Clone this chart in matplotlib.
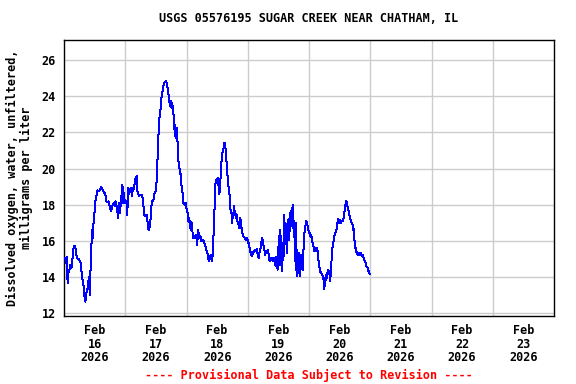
import matplotlib
matplotlib.use("Agg")
import matplotlib.pyplot as plt
import numpy as np
import datetime as dt

# Hours since 2026-02-16 00:00 and dissolved oxygen (mg/L)
hours = [0.5, 0.8, 1.2, 1.4, 1.8, 2.1, 2.5, 2.9, 3.1, 3.5, 3.8, 4.4, 4.7, 5.1, 5.7, 6.4, 7.0, 7.4, 7.8, 8.1,
         8.4, 8.6, 9.0, 9.4, 9.7, 9.9, 10.2, 10.3, 10.6, 11.0, 11.2, 11.6, 12.0, 12.3, 12.7, 13.1, 13.6, 14.2, 14.6, 15.2,
         15.7, 16.2, 16.5, 17.0, 17.5,
         18.0, 18.5, 18.8, 19.2, 19.6, 19.9, 20.2, 20.8, 21.2, 21.5, 21.9, 22.5, 22.9, 23.2, 23.5, 23.8, 24.2, 24.6, 24.8,
         25.1, 25.5, 25.9, 26.4, 26.6, 27.0, 27.4, 27.9, 28.5, 28.7, 29.0, 29.4, 29.8, 30.3, 30.7, 31.1, 31.3, 31.7, 32.3,
         32.6, 32.9, 33.2, 33.7, 34.0, 34.2, 34.6, 35.1, 35.5,
         35.9, 36.3, 36.6, 36.8, 37.2, 37.6, 37.9, 38.1, 38.5, 38.9, 39.4, 40.0, 40.5, 40.7, 41.1, 41.5, 41.8, 42.1, 42.4,
         42.7, 43.1, 43.4, 43.6, 43.9, 44.1, 44.4, 44.7, 44.9, 45.2, 45.4, 45.7, 46.0, 46.4, 46.8, 47.0, 47.4, 47.8, 48.1,
         48.3, 48.7, 49.0, 49.4, 49.6, 49.9, 50.2, 50.4, 50.7, 50.9, 51.3, 51.7, 52.0, 52.2, 52.5, 52.9, 53.3, 53.5, 53.9,
         54.3, 54.6,
         54.9, 55.2, 55.6, 56.2, 56.5, 56.9, 57.2, 57.6, 57.9, 58.2, 58.5, 58.8, 59.0, 59.4, 59.8, 60.2, 60.6, 60.9, 61.1,
         61.4, 61.6, 61.9, 62.2, 62.6, 62.9, 63.2, 63.5, 63.7, 64.1, 64.5, 64.8, 65.0, 65.3, 65.6, 65.8, 66.1, 66.3, 66.6,
         66.9, 67.1, 67.4, 67.7, 68.0, 68.3, 68.6, 68.8, 69.1, 69.4, 69.7, 70.0, 70.4, 70.9, 71.3, 71.7, 72.1, 72.5,
         73.0, 73.4, 73.7, 74.0, 74.4, 74.8, 75.2, 75.6, 75.9, 76.3, 76.5, 76.9, 77.3, 77.6, 77.8, 78.2, 78.5, 78.9, 79.1,
         79.5, 79.9, 80.3, 80.6, 80.8, 81.2, 81.6, 82.0, 82.4, 82.7, 82.9, 83.2, 83.5, 83.7, 84.0, 84.2, 84.5, 84.8, 85.0,
         85.3, 85.5, 85.8, 86.1, 86.3, 86.6, 86.8, 87.1, 87.4, 87.6, 87.9, 88.2, 88.4, 88.7, 88.9, 89.2, 89.5, 89.7, 90.0,
         90.2, 90.5, 90.8,
         90.9, 91.2, 91.4, 91.7, 91.9, 92.2, 92.5, 92.7, 93.0, 93.2, 93.5, 93.8, 94.0, 94.3, 94.6, 94.8, 95.1, 95.3, 95.6,
         95.9, 96.2, 96.5, 96.8, 97.2, 97.4, 97.7, 98.0, 98.2, 98.5, 98.7, 99.0, 99.3, 99.5, 99.8, 100.0, 100.4, 100.8,
         101.2, 101.6, 101.9, 102.0, 102.3, 102.5, 102.8, 103.0, 103.3, 103.6, 104.0, 104.3, 104.6, 104.9, 105.1, 105.4,
         105.7, 105.9, 106.3, 106.7, 107.1, 107.4,
         107.6, 107.9, 108.1, 108.4, 108.7, 109.0, 109.3, 109.6, 109.8, 110.1, 110.4, 110.6, 110.9, 111.1, 111.4, 111.7,
         111.9, 112.2, 112.4, 112.7, 113.0, 113.2, 113.5, 113.8, 114.0, 114.3, 114.5, 114.8, 115.2, 115.5, 115.7, 116.0,
         116.2, 116.5, 116.8, 117.0, 117.3, 117.5, 117.8, 118.1, 118.3, 118.6, 118.8, 119.1, 119.4, 119.6, 119.8]

oxygen = [15.04, 14.76, 15.09, 13.65, 14.30, 14.39, 14.67, 14.48, 14.76, 15.22, 15.69, 15.69, 15.31, 15.04, 14.98, 14.85, 14.11, 13.74, 13.37, 12.81,
          12.63, 12.91, 13.28, 13.37, 14.02, 13.65, 13.00, 14.02, 15.22, 16.61, 16.15, 17.07, 17.63, 18.18, 18.46, 18.80, 18.74, 18.83, 18.98, 18.83,
          18.68, 18.56, 18.18, 18.13, 18.18,
          17.81, 17.63, 17.91, 18.00, 18.09, 17.91, 18.19, 17.81, 17.26, 18.09, 17.54, 18.46, 19.11, 18.09, 18.65, 18.09, 18.19, 18.00, 17.44,
          18.93, 18.56, 18.83, 18.93, 18.46, 18.93, 18.87, 19.39, 19.57, 18.74, 18.65, 18.50, 18.56, 18.56, 18.46, 18.00, 17.54, 17.35, 17.44,
          17.31, 16.70, 16.61, 16.81, 17.35, 17.91, 18.19, 18.28, 18.65,
          18.74, 19.30, 20.41, 20.96, 22.54, 23.00, 23.37, 23.83, 24.20, 24.57, 24.76, 24.85, 24.57, 24.20, 24.02, 23.46, 23.74, 23.37, 23.65,
          23.19, 22.81, 21.80, 22.44, 21.70, 22.26, 21.61, 21.24, 20.22, 20.04, 19.85, 19.67, 19.11, 18.74, 18.09, 18.09, 18.00, 18.09, 17.63,
          17.72, 17.07, 17.26, 16.70, 17.07, 16.61, 16.98, 16.33, 16.15, 16.24, 16.15, 16.33, 16.15, 15.78, 16.61, 16.33, 16.15, 16.24, 15.96,
          16.06, 15.96,
          15.96, 15.78, 15.59, 15.31, 15.04, 14.85, 15.13, 15.22, 14.85, 15.13, 16.15, 16.70, 17.91, 19.30, 19.39, 19.48, 18.93, 18.56, 19.39,
          19.48, 20.22, 20.69, 20.96, 21.15, 21.43, 21.24, 20.78, 20.31, 19.57, 18.93, 18.83, 17.81, 17.72, 17.63, 16.98, 17.54, 17.26, 17.91,
          17.44, 17.63, 17.26, 17.44, 17.06, 16.98, 16.70, 16.98, 17.26, 16.80, 16.61, 16.33, 16.24, 16.15, 16.06, 16.15, 15.96, 15.78,
          15.41, 15.22, 15.13, 15.31, 15.41, 15.50, 15.41, 15.54, 15.22, 15.04, 15.31, 15.50, 15.87, 16.15, 16.06, 15.69, 15.50, 15.22, 15.41,
          15.41, 15.50, 15.13, 14.85, 15.04, 14.94, 15.04, 14.85, 15.04, 14.67, 15.13, 14.57, 14.85, 14.39, 15.50, 16.24, 14.67, 16.61, 14.85,
          15.50, 14.30, 15.87, 15.13, 17.44, 16.24, 16.98, 15.96, 15.31, 17.17, 16.89, 16.06, 17.54, 16.52, 17.63, 16.98, 17.81, 18.00, 16.24,
          17.07, 14.85, 16.98,
          14.39, 15.50, 14.02, 15.13, 14.20, 15.31, 14.02, 15.22, 15.13, 14.57, 14.39, 15.31, 16.15, 16.52, 16.80, 17.07, 17.07, 16.98, 16.61,
          16.52, 16.43, 16.24, 16.33, 16.06, 15.87, 15.78, 15.41, 15.59, 15.41, 15.50, 15.59, 15.50, 15.13, 14.85, 14.57, 14.30, 14.20,
          14.11, 13.93, 13.65, 13.31, 13.93, 13.83, 14.11, 13.93, 14.30, 14.39, 14.20, 13.74, 14.39, 15.04, 15.50, 15.78,
          16.06, 16.24, 16.43, 16.52, 16.98, 17.20,
          17.07, 16.98, 17.17, 16.98, 17.07, 17.07, 17.07, 17.26, 17.54, 17.81, 18.09, 18.19, 18.09, 17.91, 17.72, 17.63,
          17.35, 17.20, 17.07, 16.98, 16.98, 16.61, 16.65, 16.06, 15.87, 15.50, 15.41, 15.31, 15.22, 15.31, 15.22, 15.31,
          15.31, 15.22, 15.13, 15.22, 15.13, 14.94, 14.91, 14.85, 14.67, 14.57, 14.57, 14.39, 14.30, 14.20, 14.17]

start = dt.datetime(2026, 2, 16)
end = dt.datetime(2026, 2, 24)
y_ticks = [12, 14, 16, 18, 20, 22, 24, 26]
day_labels = ["Feb\n16\n2026", "Feb\n17\n2026", "Feb\n18\n2026", "Feb\n19\n2026",
              "Feb\n20\n2026", "Feb\n21\n2026", "Feb\n22\n2026", "Feb\n23\n2026"]

title = "USGS 05576195 SUGAR CREEK NEAR CHATHAM, IL"
ylabel = "Dissolved oxygen, water, unfiltered,\nmilligrams per liter"
footer = "---- Provisional Data Subject to Revision ----"

times = [start + dt.timedelta(hours=h) for h in hours]

font = {"family": "DejaVu Sans Mono", "weight": "bold", "size": 8.5}

fig = plt.figure(figsize=(5.76, 3.84), dpi=100)
ax = fig.add_axes([64/576, 1-316/384, 490/576, (316-39.5)/384])

ax.plot(times, oxygen, color="#0000ff", linewidth=0.72, antialiased=False, zorder=3)

ax.set_xlim(start, end)
ax.set_ylim(11.83, 27.15)

ax.set_yticks(y_ticks)
ax.set_yticklabels([str(v) for v in y_ticks], fontdict=font)

noon_ticks = [start + dt.timedelta(days=i, hours=12) for i in range(8)]
midnight_ticks = [start + dt.timedelta(days=i) for i in range(1, 8)]
ax.set_xticks(noon_ticks)
ax.set_xticklabels(day_labels, fontdict=font, linespacing=1.05)
ax.set_xticks(midnight_ticks, minor=True)

ax.grid(False)
ax.grid(True, which="minor", axis="x", color="#cccccc", linewidth=1.0)
ax.grid(True, which="major", axis="y", color="#cccccc", linewidth=1.0)
ax.set_axisbelow(True)

ax.tick_params(axis="both", which="both", length=0)
ax.tick_params(axis="x", pad=6)
ax.tick_params(axis="y", pad=6)

for s in ax.spines.values():
    s.set_linewidth(1.0)
    s.set_color("black")

ax.set_ylabel(ylabel, fontdict=font, linespacing=1.1, labelpad=6)
fig.text(309/576, 1-19/384, title, ha="center", va="center", **font)
fig.text(309/576, 1-375/384, footer, ha="center", va="center", color="#ff0000", **font)

fig.savefig("out.png", dpi=100)
